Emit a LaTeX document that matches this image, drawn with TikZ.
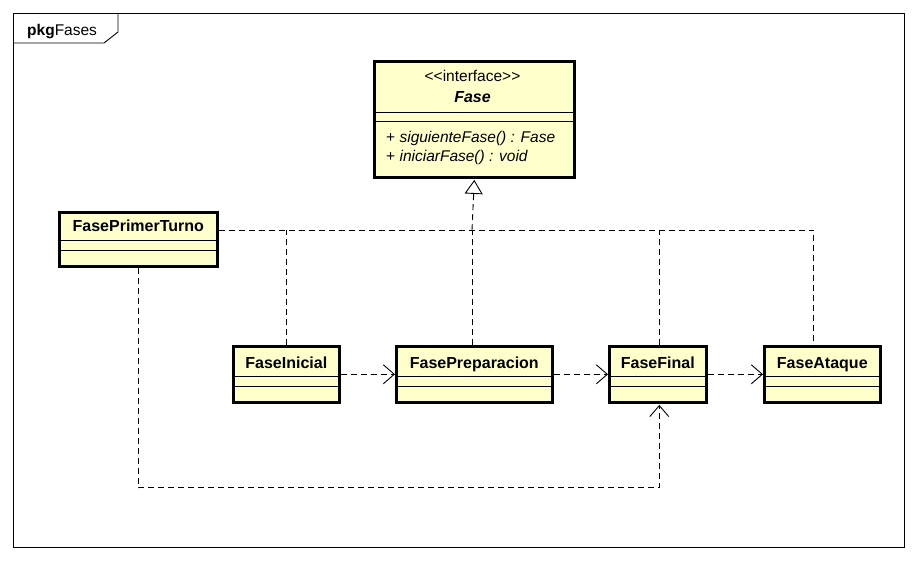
\documentclass[tikz,border=0pt]{standalone}
\usepackage{fontspec}
\setmainfont{Liberation Sans}
\definecolor{classyellow}{RGB}{255,255,204}
\usetikzlibrary{arrows.meta,calc,positioning}
\tikzstyle{cls}=[draw,line width=2.6pt,fill=classyellow,inner sep=0pt,anchor=north west]
\tikzstyle{clsname}=[inner sep=0pt,anchor=base,font=\fontsize{16}{18}\selectfont\bfseries]
\tikzstyle{txt}=[inner sep=0pt,font=\fontsize{15.5}{18}\selectfont]
\tikzstyle{sep}=[line width=0.9pt]
\tikzstyle{real}=[line width=0.9pt,dash pattern=on 6pt off 4pt]
\tikzstyle{dep}=[real,-{Straight Barb[length=11pt,width=19pt,line width=0.9pt]}]

\begin{document}
\begin{tikzpicture}[x=1pt,y=-1pt]
  \useasboundingbox (0,0) rectangle (918,561);

  % package frame
  \draw[sep] (13,13) rectangle (904,547);
  \draw[sep] (13,43) -- (104,43) -- (118,32) -- (118,13);
  \node[txt,anchor=base west] (pkg) at (27,36) {\textbf{pkg}Fases};

  % interface
  \node[cls,minimum width=200pt,minimum height=115.5pt] (fase) at (373,60.5) {};
  \node[txt,anchor=base] (fase-st) at (472.5,81.5) {<{}<interface>{}>};
  \node[clsname,anchor=base] (fase-t) at (472.5,103) {\itshape Fase};
  \draw[sep] ($(fase.north west)+(0,51.5)$) -- ($(fase.north east)+(0,51.5)$);
  \draw[sep] ($(fase.north west)+(0,60.5)$) -- ($(fase.north east)+(0,60.5)$);
  \node[txt,anchor=base west] (op1) at (386,143) {+ \itshape siguienteFase() : Fase};
  \node[txt,anchor=base west] (op2) at (386,162) {+ \itshape iniciarFase() : void};

  % FasePrimerTurno
  \node[cls,minimum width=158pt,minimum height=54pt] (ptt) at (58,211) {};
  \node[clsname] (ptt-t) at ($(ptt.north)+(0,21)$) {FasePrimerTurno};
  \draw[sep] ($(ptt.north west)+(0,29)$) -- ($(ptt.north east)+(0,29)$);
  \draw[sep] ($(ptt.north west)+(0,39)$) -- ($(ptt.north east)+(0,39)$);

  % fases
  \foreach \n/\x/\w/\t in {ini/232/106/FaseInicial, prep/395/156/FasePreparacion,
                           fin/608/97/FaseFinal, atq/763/116/FaseAtaque}
  {
    \node[cls,minimum width=\w pt,minimum height=56pt] (\n) at (\x,345) {};
    \node[clsname] (\n-t) at ($(\n.north)+(0,23)$) {\t};
    \draw[sep] ($(\n.north west)+(0,31.5)$) -- ($(\n.north east)+(0,31.5)$);
    \draw[sep] ($(\n.north west)+(0,41.5)$) -- ($(\n.north east)+(0,41.5)$);
  }

  % realizations
  \coordinate (j) at (472,230);
  \coordinate (atq-top) at ($(atq.north)+(-9,0)$);
  \coordinate (fase-tip) at ($(fase.south)+(0,1.3)$);
  \draw[real] (ptt.east |- j) -- (atq-top |- j) -- (atq-top);
  \draw[real] (ini.north) -- (ini.north |- j);
  \draw[real] (prep.north -| j) -- (j);
  \draw[real] ($(fin.north)+(1.5,0)$) -- ($(fin.north |- j)+(1.5,0)$);
  \draw[real,-{Triangle[open,length=14pt,width=18pt,line width=0.9pt]}] (j) -- (fase-tip);

  % dependencies
  \draw[dep] (ini) -- (prep);
  \draw[dep] (prep) -- (fin);
  \draw[dep] (fin) -- (atq);
  \draw[dep] (ptt.south) |- ($(fin.south)+(1.5,84)$) -- ($(fin.south)+(1.5,1.3)$);
\end{tikzpicture}
\end{document}
